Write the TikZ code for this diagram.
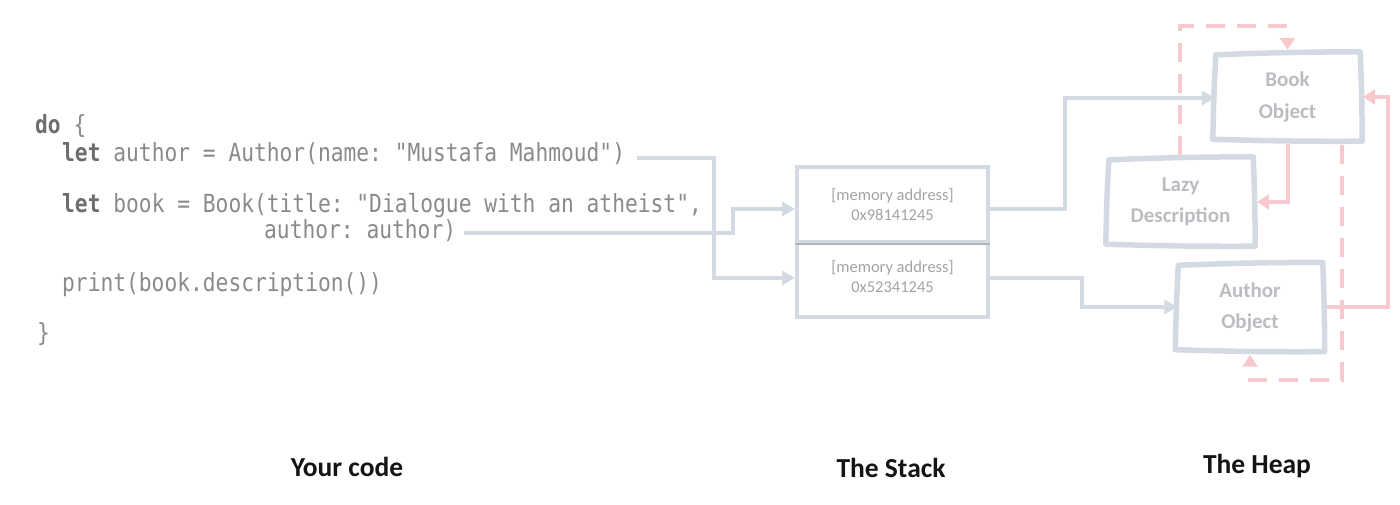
\documentclass[tikz,border=0pt]{standalone}
\usepackage{fontspec}
\setmainfont{Carlito}
\newfontfamily\codefont[FakeStretch=0.85]{DejaVu Sans Mono}
\usetikzlibrary{arrows.meta,calc}
\definecolor{codegray}{HTML}{8A8A8A}
\definecolor{kwgray}{HTML}{6E6E6E}
\definecolor{boxblue}{HTML}{D4DAE4}
\definecolor{divgray}{HTML}{B4B4B4}
\definecolor{pinkc}{HTML}{F8C9CC}
\definecolor{addrgray}{HTML}{A3A3A3}
\definecolor{heaptext}{HTML}{BBBBC1}
\newcommand\kwd[1]{\textcolor{kwgray}{\bfseries #1}}
\newcommand\sketchbox[1]{%
  \draw[heapbox] ($(#1.north west)+(2,2)$) to[bend left=1] ($(#1.north east)+(-1,-1)$)
    to[bend left=1] ($(#1.south east)+(1,0)$) to[bend left=1] ($(#1.south west)+(-1,-2)$)
    to[bend left=1] cycle;}
\frenchspacing
\begin{document}
\begin{tikzpicture}[x=1pt,y=-1pt,
  codeline/.style={anchor=base west,inner sep=0,font=\codefont\fontsize{25}{25}\selectfont\frenchspacing,text=codegray},
  stackbox/.style={draw=boxblue,line width=4,minimum width=191,minimum height=75,align=center,
    text=addrgray,font=\fontsize{16.5}{20}\selectfont,inner sep=0},
  heapnode/.style={minimum width=147,minimum height=88,align=center,inner sep=0,
    text=heaptext,font=\bfseries\fontsize{21}{31.5}\selectfont},
  heapbox/.style={draw=boxblue,line width=5.5,line join=round,line cap=round},
  bluearrow/.style={draw=boxblue,line width=4,-{Triangle[length=13,width=14]}},
  pinkarrow/.style={draw=pinkc,line width=4.5,-{Triangle[length=12,width=15]}},
  pinkdash/.style={draw=pinkc,line width=4.5,dash pattern=on 19 off 12,-{Triangle[length=12,width=15]}},
  lab/.style={inner sep=0,font=\bfseries\fontsize{27.5}{28}\selectfont,text=black!92}]
\useasboundingbox (0,0) rectangle (1400,505);

% code
\node[codeline] (cdo) at (35,134) {\kwd{do} \{};
\node[codeline] (la) at (62,162) {\kwd{let} author = Author(name: "Mustafa Mahmoud")};
\node[codeline] (lb) at (62,213) {\kwd{let} book = Book(title: "Dialogue with an atheist",};
\node[codeline] (lc) at (264,239) {author: author)};
\node[codeline] (lp) at (62,291) {print(book.description())};
\node[codeline] (cend) at (37,341) {\}};

% stack
\node[stackbox] (stop) at (892.5,204.5) {[memory address]\\0x98141245};
\node[stackbox] (sbot) at (892.5,279) {\raisebox{5pt}{[memory address]}\\\raisebox{5pt}{0x52341245}};
\draw[divgray,line width=2.5] (stop.south west) -- (stop.south east);

% heap
\node[heapnode] (book) at (1287.5,97) {Book\\Object};
\node[heapnode] (lazy) at (1180.5,202) {Lazy\\Description};
\node[heapnode] (author) at (1250,307.5) {Author\\Object};
\sketchbox{book}
\sketchbox{lazy}
\sketchbox{author}

% blue connectors
\coordinate (s1) at ($(la.base east)+(12,-4)$);
\coordinate (s2) at ($(lc.base east)+(8,-6)$);
\coordinate (k1) at (714,278);
\coordinate (k2) at (733,209);
\coordinate (k3) at (1065,98);
\coordinate (k4) at (1082,307);
\draw[bluearrow] (s1) -| (k1) -- (k1 -| sbot.west);
\draw[bluearrow] (s2) -| (k2) -- (k2 -| stop.west);
\draw[bluearrow] (k2 -| stop.east) -| (k3) -- ($(k3 -| book.west)+(1,0)$);
\draw[bluearrow] (k1 -| sbot.east) -| (k4) -- ($(k4 -| author.west)+(1,0)$);

% pink connectors
\coordinate (p1) at (1288,202);
\coordinate (p2) at (1388,307);
\coordinate (p3) at (1388,97);
\coordinate (d1) at (1180,26);
\coordinate (d2) at (1342,380);
\draw[pinkarrow] ($(book.south -| p1)+(0,3)$) -- (p1) -- ($(p1 -| lazy.east)+(3,0)$);
\draw[pinkarrow] ($(author.east |- p2)+(3,0)$) -- (p2) -- (p3) -- ($(p3 -| book.east)+(2,0)$);
\draw[pinkdash] ($(lazy.north)+(-0.5,-3)$) -- (d1) -| ($(book.north)+(0,-3)$);
\draw[pinkdash] ($(book.south -| d2)+(0,4)$) -- (d2) -| ($(author.south)+(0,3)$);

% labels
\node[lab] (ly) at (347,467) {Your code};
\node[lab] (ls) at (891,468) {The Stack};
\node[lab] (lh) at (1257,466) {The Heap};
\end{tikzpicture}
\end{document}
